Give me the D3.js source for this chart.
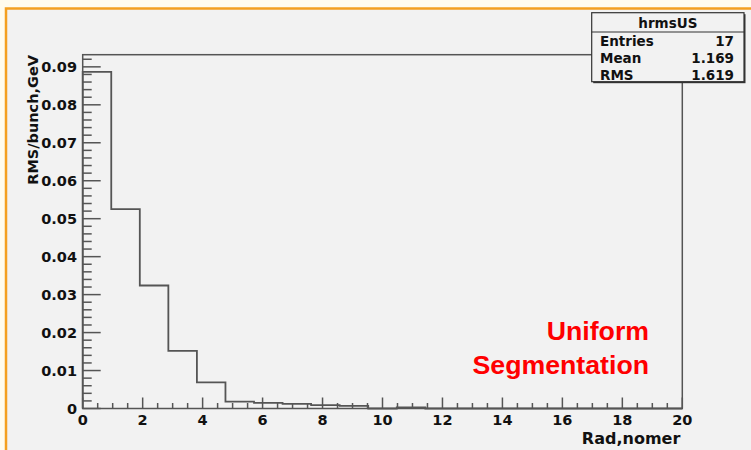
<!DOCTYPE html>
<html lang="en">
<head>
  <meta charset="UTF-8">
  <title>hrmsUS</title>
  <style>
    body { margin: 0; background: #fffcee; }
    svg { display: block; }
    text { font-family: "DejaVu Sans", sans-serif; font-weight: bold; fill: #111; }
  </style>
</head>
<body>
  <div id="chart"></div>
  <script src="https://d3js.org/d3.v7.min.js"></script>
  <script>
    const width = 751
    const height = 450

    // histogram bin contents, 21 equal bins over [0, 20]
    const binValues = [0.0887, 0.0525, 0.0324, 0.0152, 0.0069, 0.0018, 0.0015, 0.0012,
      0.0009, 0.0007, 0, 0.0003, 0, 0, 0, 0, 0, 0, 0, 0, 0]
    const xDomain = [0, 20]
    const yMax = 0.0932
    const xMajorTicks = [0, 2, 4, 6, 8, 10, 12, 14, 16, 18, 20]
    const yMajorTicks = [0, 0.01, 0.02, 0.03, 0.04, 0.05, 0.06, 0.07, 0.08, 0.09]
    const statsTitle = 'hrmsUS'
    const statsNames = ['Entries', 'Mean', 'RMS']
    const statsValues = ['17', '1.169', '1.619']
    const noteLines = ['Uniform', 'Segmentation']

    const frame = { left: 82.7, right: 682.3, top: 54.7, bottom: 408.5 }

    const svg = d3.select('#chart').append('svg')
      .attr('width', width)
      .attr('height', height)

    // orange outer border + grey pad
    svg.append('rect')
      .attr('x', 6).attr('y', 8.5)
      .attr('width', width + 20).attr('height', height + 20)
      .attr('fill', '#f2f2f2')
      .attr('stroke', '#f4a020')
      .attr('stroke-width', 2.5)

    const x = d3.scaleLinear().domain(xDomain).range([frame.left, frame.right])
    const y = d3.scaleLinear().domain([0, yMax]).range([frame.bottom, frame.top])

    const lineColor = '#555'

    // frame
    svg.append('rect')
      .attr('x', frame.left).attr('y', frame.top)
      .attr('width', frame.right - frame.left)
      .attr('height', frame.bottom - frame.top)
      .attr('fill', 'none')
      .attr('stroke', lineColor)
      .attr('stroke-width', 1.5)

    // histogram step line
    const binW = (xDomain[1] - xDomain[0]) / binValues.length
    const pts = [[xDomain[0], 0]]
    binValues.forEach((v, i) => {
      pts.push([xDomain[0] + i * binW, v])
      pts.push([xDomain[0] + (i + 1) * binW, v])
    })
    pts.push([xDomain[1], 0])
    svg.append('path')
      .datum(pts)
      .attr('d', d3.line().x(d => x(d[0])).y(d => y(d[1])))
      .attr('fill', 'none')
      .attr('stroke', lineColor)
      .attr('stroke-width', 1.8)

    // y axis: ticks pointing inward
    const yMinor = d3.range(0, yMax, 0.002)
    svg.append('g').selectAll('line')
      .data(yMinor)
      .join('line')
      .attr('x1', frame.left)
      .attr('x2', (d, i) => frame.left + (i % 5 === 0 ? 18 : 9))
      .attr('y1', d => y(d)).attr('y2', d => y(d))
      .attr('stroke', lineColor)
      .attr('stroke-width', 1.5)

    svg.append('g').selectAll('text')
      .data(yMajorTicks)
      .join('text')
      .attr('x', 77)
      .attr('y', d => y(d) + 5.5)
      .attr('text-anchor', 'end')
      .style('font-size', '14.5px')
      .text(d => d === 0 ? '0' : d3.format('.2f')(d))

    // x axis
    const xMinor = d3.range(0, 20.01, 0.5)
    svg.append('g').selectAll('line')
      .data(xMinor)
      .join('line')
      .attr('x1', d => x(d)).attr('x2', d => x(d))
      .attr('y1', frame.bottom)
      .attr('y2', (d, i) => frame.bottom - (i % 4 === 0 ? 11 : 5.5))
      .attr('stroke', lineColor)
      .attr('stroke-width', 1.5)

    svg.append('g').selectAll('text')
      .data(xMajorTicks)
      .join('text')
      .attr('x', d => x(d))
      .attr('y', 425)
      .attr('text-anchor', 'middle')
      .style('font-size', '14.5px')
      .text(d => d)

    // axis titles
    svg.append('text')
      .attr('x', frame.right - 2)
      .attr('y', 443.5)
      .attr('text-anchor', 'end')
      .style('font-size', '16px')
      .text('Rad,nomer')

    svg.append('text')
      .attr('transform', 'translate(38,55) rotate(-90)')
      .attr('text-anchor', 'end')
      .style('font-size', '14.5px')
      .text('RMS/bunch,GeV')

    // red note
    svg.append('g').selectAll('text')
      .data(noteLines)
      .join('text')
      .attr('x', 649)
      .attr('y', (d, i) => 340 + i * 34)
      .attr('text-anchor', 'end')
      .style('font-family', '"Liberation Sans", Arial, sans-serif')
      .style('font-size', '26.7px')
      .style('fill', '#ff0000')
      .text(d => d)

    // stats box
    const sb = { x: 591.7, y: 12.7, w: 152.3, h: 69 }
    const stats = svg.append('g')
    stats.append('rect')
      .attr('x', sb.x + 1.5).attr('y', sb.y + 1.5)
      .attr('width', sb.w).attr('height', sb.h)
      .attr('fill', '#333')
    stats.append('rect')
      .attr('x', sb.x).attr('y', sb.y)
      .attr('width', sb.w).attr('height', sb.h)
      .attr('fill', '#f2f2f2')
      .attr('stroke', '#333')
      .attr('stroke-width', 1.2)
    stats.append('line')
      .attr('x1', sb.x).attr('x2', sb.x + sb.w)
      .attr('y1', 32).attr('y2', 32)
      .attr('stroke', '#333')
      .attr('stroke-width', 1.2)
    stats.append('text')
      .attr('x', sb.x + sb.w / 2)
      .attr('y', 28.3)
      .attr('text-anchor', 'middle')
      .style('font-size', '13.5px')
      .text(statsTitle)
    stats.selectAll('.name')
      .data(statsNames)
      .join('text')
      .attr('class', 'name')
      .attr('x', 600)
      .attr('y', (d, i) => 45.7 + i * 17.2)
      .style('font-size', '13.5px')
      .text(d => d)
    stats.selectAll('.val')
      .data(statsValues)
      .join('text')
      .attr('class', 'val')
      .attr('x', 734)
      .attr('y', (d, i) => 45.7 + i * 17.2)
      .attr('text-anchor', 'end')
      .style('font-size', '13.5px')
      .text(d => d)
  </script>
</body>
</html>
